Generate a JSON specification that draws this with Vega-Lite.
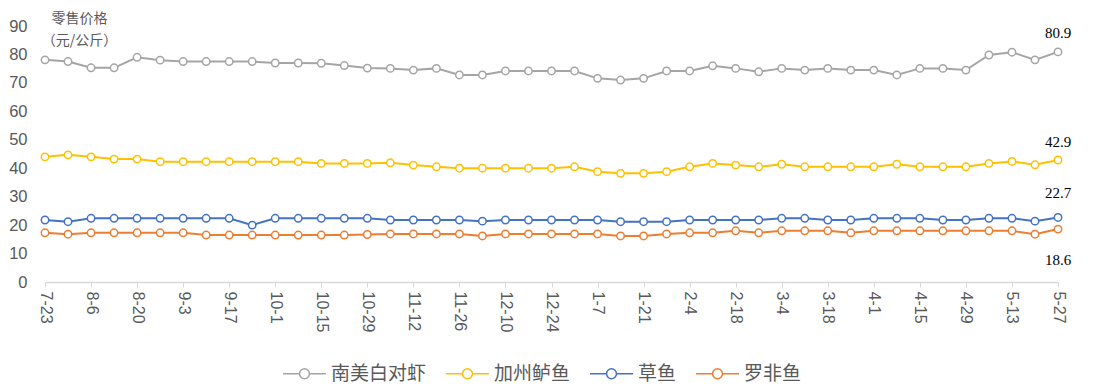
{
  "$schema": "https://vega.github.io/schema/vega-lite/v6.json",
  "autosize": "none",
  "width": 1013,
  "height": 256,
  "padding": {"left": 45, "top": 26, "right": 42, "bottom": 105},
  "background": "white",
  "config": {"view": {"stroke": null}, "font": "Noto Sans CJK SC"},
  "data": {"values": [
    {"d": "7-23", "南美白对虾": 78.1, "加州鲈鱼": 44.0, "草鱼": 21.8, "罗非鱼": 17.3},
    {"d": "7-30", "南美白对虾": 77.5, "加州鲈鱼": 44.7, "草鱼": 21.2, "罗非鱼": 16.8},
    {"d": "8-6", "南美白对虾": 75.3, "加州鲈鱼": 44.0, "草鱼": 22.4, "罗非鱼": 17.3},
    {"d": "8-13", "南美白对虾": 75.3, "加州鲈鱼": 43.2, "草鱼": 22.4, "罗非鱼": 17.3},
    {"d": "8-20", "南美白对虾": 79.0, "加州鲈鱼": 43.2, "草鱼": 22.4, "罗非鱼": 17.3},
    {"d": "8-27", "南美白对虾": 78.0, "加州鲈鱼": 42.3, "草鱼": 22.4, "罗非鱼": 17.3},
    {"d": "9-3", "南美白对虾": 77.5, "加州鲈鱼": 42.3, "草鱼": 22.4, "罗非鱼": 17.3},
    {"d": "9-10", "南美白对虾": 77.5, "加州鲈鱼": 42.3, "草鱼": 22.4, "罗非鱼": 16.5},
    {"d": "9-17", "南美白对虾": 77.5, "加州鲈鱼": 42.3, "草鱼": 22.4, "罗非鱼": 16.5},
    {"d": "9-24", "南美白对虾": 77.5, "加州鲈鱼": 42.3, "草鱼": 20.0, "罗非鱼": 16.5},
    {"d": "10-1", "南美白对虾": 77.0, "加州鲈鱼": 42.3, "草鱼": 22.4, "罗非鱼": 16.5},
    {"d": "10-8", "南美白对虾": 77.0, "加州鲈鱼": 42.3, "草鱼": 22.4, "罗非鱼": 16.5},
    {"d": "10-15", "南美白对虾": 76.9, "加州鲈鱼": 41.7, "草鱼": 22.4, "罗非鱼": 16.5},
    {"d": "10-22", "南美白对虾": 76.1, "加州鲈鱼": 41.7, "草鱼": 22.4, "罗非鱼": 16.5},
    {"d": "10-29", "南美白对虾": 75.2, "加州鲈鱼": 41.7, "草鱼": 22.4, "罗非鱼": 16.7},
    {"d": "11-5", "南美白对虾": 75.1, "加州鲈鱼": 41.9, "草鱼": 21.8, "罗非鱼": 16.9},
    {"d": "11-12", "南美白对虾": 74.5, "加州鲈鱼": 41.1, "草鱼": 21.8, "罗非鱼": 16.9},
    {"d": "11-19", "南美白对虾": 75.1, "加州鲈鱼": 40.5, "草鱼": 21.8, "罗非鱼": 16.9},
    {"d": "11-26", "南美白对虾": 72.8, "加州鲈鱼": 40.0, "草鱼": 21.8, "罗非鱼": 16.9},
    {"d": "12-3", "南美白对虾": 72.8, "加州鲈鱼": 40.0, "草鱼": 21.4, "罗非鱼": 16.2},
    {"d": "12-10", "南美白对虾": 74.2, "加州鲈鱼": 40.0, "草鱼": 21.8, "罗非鱼": 16.9},
    {"d": "12-17", "南美白对虾": 74.2, "加州鲈鱼": 40.0, "草鱼": 21.8, "罗非鱼": 16.9},
    {"d": "12-24", "南美白对虾": 74.2, "加州鲈鱼": 40.0, "草鱼": 21.8, "罗非鱼": 16.9},
    {"d": "12-31", "南美白对虾": 74.2, "加州鲈鱼": 40.5, "草鱼": 21.8, "罗非鱼": 16.9},
    {"d": "1-7", "南美白对虾": 71.6, "加州鲈鱼": 38.8, "草鱼": 21.8, "罗非鱼": 16.9},
    {"d": "1-14", "南美白对虾": 71.0, "加州鲈鱼": 38.2, "草鱼": 21.2, "罗非鱼": 16.2},
    {"d": "1-21", "南美白对虾": 71.6, "加州鲈鱼": 38.2, "草鱼": 21.2, "罗非鱼": 16.2},
    {"d": "1-28", "南美白对虾": 74.2, "加州鲈鱼": 38.8, "草鱼": 21.2, "罗非鱼": 16.9},
    {"d": "2-4", "南美白对虾": 74.2, "加州鲈鱼": 40.5, "草鱼": 21.8, "罗非鱼": 17.3},
    {"d": "2-11", "南美白对虾": 76.0, "加州鲈鱼": 41.7, "草鱼": 21.8, "罗非鱼": 17.3},
    {"d": "2-18", "南美白对虾": 75.1, "加州鲈鱼": 41.1, "草鱼": 21.8, "罗非鱼": 18.0},
    {"d": "2-25", "南美白对虾": 73.9, "加州鲈鱼": 40.5, "草鱼": 21.8, "罗非鱼": 17.3},
    {"d": "3-4", "南美白对虾": 75.1, "加州鲈鱼": 41.4, "草鱼": 22.4, "罗非鱼": 18.0},
    {"d": "3-11", "南美白对虾": 74.5, "加州鲈鱼": 40.5, "草鱼": 22.4, "罗非鱼": 18.0},
    {"d": "3-18", "南美白对虾": 75.1, "加州鲈鱼": 40.5, "草鱼": 21.8, "罗非鱼": 18.0},
    {"d": "3-25", "南美白对虾": 74.5, "加州鲈鱼": 40.5, "草鱼": 21.8, "罗非鱼": 17.3},
    {"d": "4-1", "南美白对虾": 74.5, "加州鲈鱼": 40.5, "草鱼": 22.4, "罗非鱼": 18.0},
    {"d": "4-8", "南美白对虾": 72.8, "加州鲈鱼": 41.4, "草鱼": 22.4, "罗非鱼": 18.0},
    {"d": "4-15", "南美白对虾": 75.1, "加州鲈鱼": 40.5, "草鱼": 22.4, "罗非鱼": 18.0},
    {"d": "4-22", "南美白对虾": 75.1, "加州鲈鱼": 40.5, "草鱼": 21.8, "罗非鱼": 18.0},
    {"d": "4-29", "南美白对虾": 74.5, "加州鲈鱼": 40.5, "草鱼": 21.8, "罗非鱼": 18.0},
    {"d": "5-6", "南美白对虾": 79.8, "加州鲈鱼": 41.7, "草鱼": 22.4, "罗非鱼": 18.0},
    {"d": "5-13", "南美白对虾": 80.8, "加州鲈鱼": 42.4, "草鱼": 22.4, "罗非鱼": 18.0},
    {"d": "5-20", "南美白对虾": 78.1, "加州鲈鱼": 41.2, "草鱼": 21.4, "罗非鱼": 16.8},
    {"d": "5-27", "南美白对虾": 80.9, "加州鲈鱼": 42.9, "草鱼": 22.7, "罗非鱼": 18.6}
  ]},
  "transform": [{"fold": ["南美白对虾", "加州鲈鱼", "草鱼", "罗非鱼"], "as": ["series", "value"]}],
  "encoding": {
    "x": {"field": "d", "type": "ordinal", "sort": null, "scale": {"type": "point", "padding": 0},
      "axis": {"values": ["7-23","8-6","8-20","9-3","9-17","10-1","10-15","10-29","11-12","11-26","12-10","12-24","1-7","1-21","2-4","2-18","3-4","3-18","4-1","4-15","4-29","5-13","5-27"],
        "title": null, "labelAngle": 90, "labelFontSize": 16, "labelColor": "#595959", "labelFont": "Liberation Sans",
        "domainColor": "#D9D9D9", "domainWidth": 1.5, "tickColor": "#D9D9D9", "tickSize": 5, "labelPadding": 4, "grid": false}},
    "y": {"field": "value", "type": "quantitative", "scale": {"domain": [0, 90], "nice": false},
      "axis": {"values": [0,10,20,30,40,50,60,70,80,90], "title": ["零售价格", "（元/公斤）"], "titleAngle": 0,
        "titleX": 34, "titleY": -15, "titleAlign": "center", "titleBaseline": "top", "titleFontSize": 14,
        "titleFontWeight": "normal", "titleColor": "#595959", "titleLineHeight": 22,
        "domain": false, "ticks": false, "grid": false, "labelPadding": 18, "labelFontSize": 16.5,
        "labelColor": "#595959", "labelFont": "Liberation Sans"}}
  },
  "layer": [
    {"mark": {"type": "line", "strokeWidth": 2, "point": {"filled": false, "fill": "white", "size": 55, "strokeWidth": 1.5}},
     "encoding": {
       "color": {"field": "series", "type": "nominal",
         "scale": {"domain": ["南美白对虾", "加州鲈鱼", "草鱼", "罗非鱼"], "range": ["#A5A5A5", "#FFC000", "#4472C4", "#ED7D31"]},
         "legend": {"orient": "none", "legendX": 237, "legendY": 325, "direction": "horizontal", "title": null,
           "labelFontSize": 19, "labelColor": "#595959", "labelOffset": 4, "columnPadding": 16,
           "symbolType": "M-1,0L-0.23,0M0.23,0L1,0M-0.23,0A0.23,0.23 0 1,1 0.23,0A0.23,0.23 0 1,1 -0.23,0",
           "symbolSize": 1849, "symbolStrokeWidth": 1.5,
           "encode": {"symbols": {"update": {"fill": {"value": "white"}, "strokeWidth": {"value": 1.5}}}}}}
     }},
    {"transform": [{"filter": "datum.d === '5-27' && datum.series === '南美白对虾'"}],
     "mark": {"type": "text", "dy": -19, "font": "Liberation Serif", "fontSize": 15, "color": "black"},
     "encoding": {"text": {"field": "value", "format": ".1f"}}},
    {"transform": [{"filter": "datum.d === '5-27' && datum.series === '加州鲈鱼'"}],
     "mark": {"type": "text", "dy": -18, "font": "Liberation Serif", "fontSize": 15, "color": "black"},
     "encoding": {"text": {"field": "value", "format": ".1f"}}},
    {"transform": [{"filter": "datum.d === '5-27' && datum.series === '草鱼'"}],
     "mark": {"type": "text", "dy": -24, "font": "Liberation Serif", "fontSize": 15, "color": "black"},
     "encoding": {"text": {"field": "value", "format": ".1f"}}},
    {"transform": [{"filter": "datum.d === '5-27' && datum.series === '罗非鱼'"}],
     "mark": {"type": "text", "dy": 31, "font": "Liberation Serif", "fontSize": 15, "color": "black"},
     "encoding": {"text": {"field": "value", "format": ".1f"}}}
  ]
}
